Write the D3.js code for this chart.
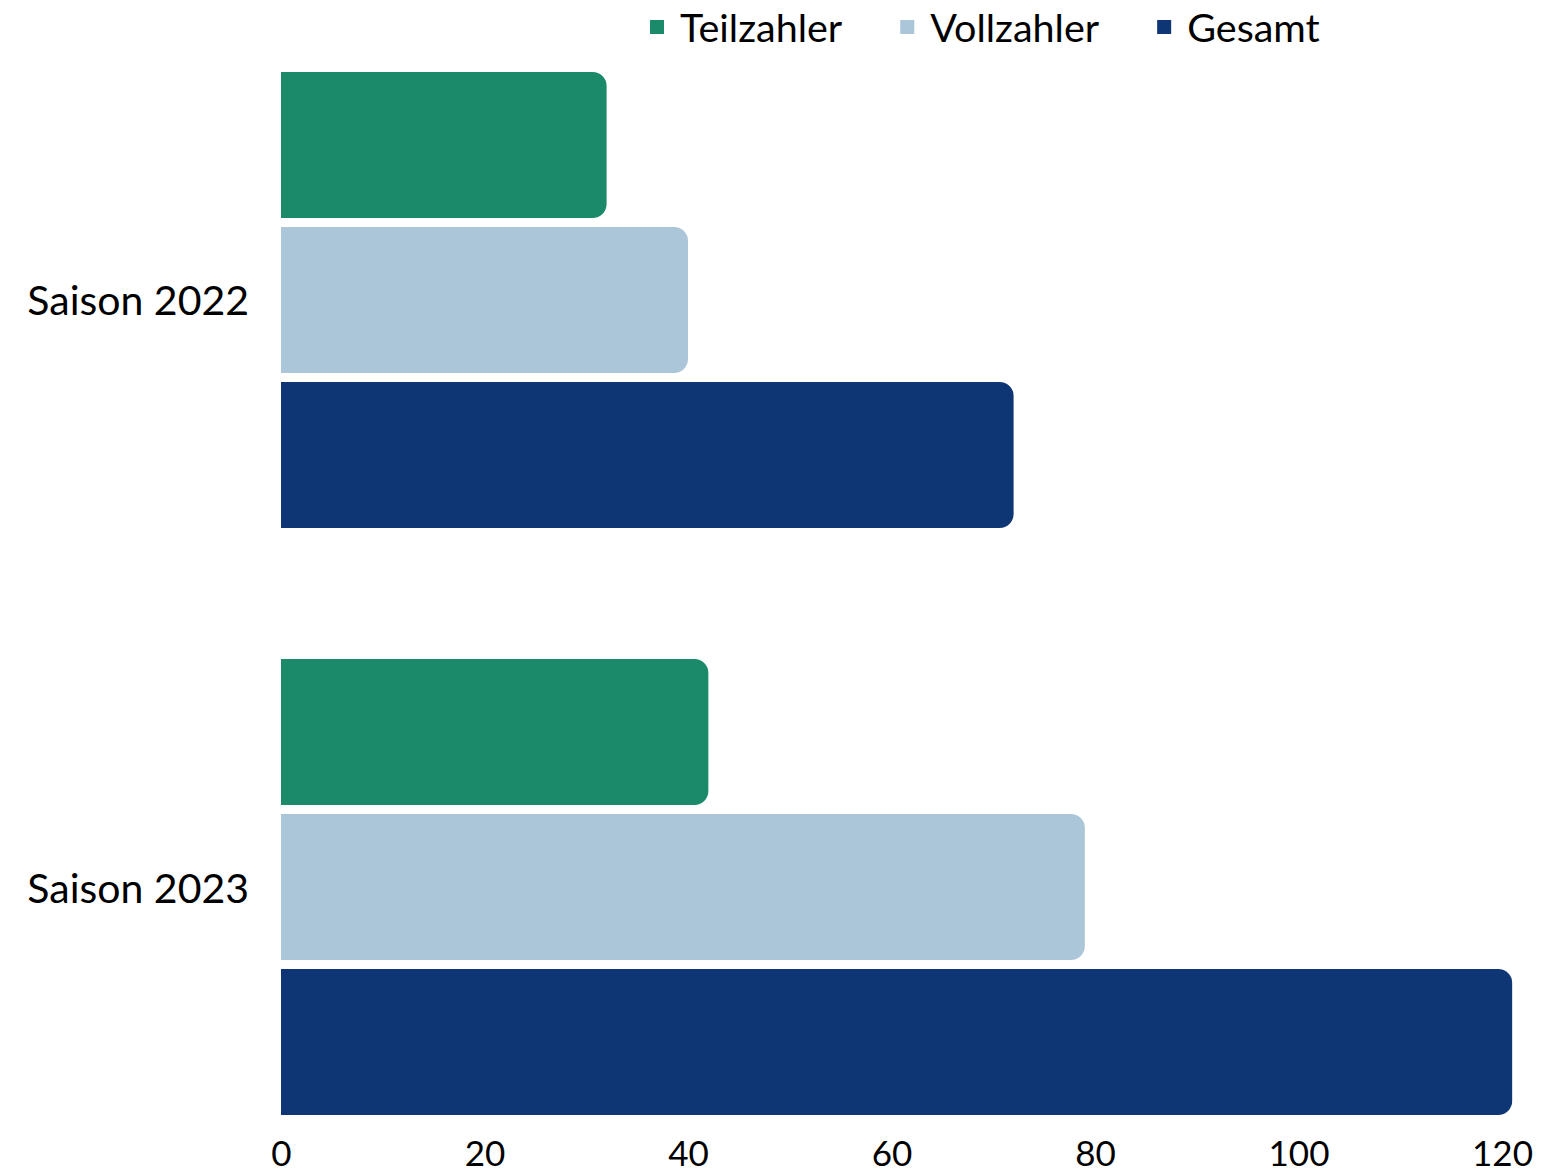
<!DOCTYPE html>
<html>
<head>
<meta charset="utf-8">
<script src="https://cdn.jsdelivr.net/npm/d3@7"></script>
<style>
  html, body { margin: 0; padding: 0; background: #fff; }
  svg { display: block; }
  text { font-family: "Lato", "Open Sans", sans-serif; fill: #000; }
</style>
</head>
<body>
<svg id="chart" width="1541" height="1176"></svg>
<script>
const categories = ["Saison 2022", "Saison 2023"];
const seriesNames = ["Teilzahler", "Vollzahler", "Gesamt"];
const teilzahler = [32, 42];
const vollzahler = [40, 79];
const gesamt = [72, 121];
const xTicks = [0, 20, 40, 60, 80, 100, 120];
const colors = ["#1a8a6a", "#aac6d8", "#0f3674"];

const seriesValues = [teilzahler, vollzahler, gesamt];
const svg = d3.select("#chart");

const x = d3.scaleLinear().domain([0, 120]).range([281, 1502]);
const y0 = d3.scaleBand().domain(categories).range([72, 1115]).paddingInner(0.2232).paddingOuter(0);
const y1 = d3.scaleBand().domain(seriesNames).range([0, y0.bandwidth()]).paddingInner(0.058).paddingOuter(0);

function barPath(x0, x1, top, h, r) {
  r = Math.min(r, (x1 - x0), h / 2);
  return `M${x0},${top}H${x1 - r}A${r},${r} 0 0 1 ${x1},${top + r}V${top + h - r}A${r},${r} 0 0 1 ${x1 - r},${top + h}H${x0}Z`;
}

const groups = svg.selectAll("g.cat").data(categories).join("g")
  .attr("class", "cat")
  .attr("transform", d => `translate(0,${y0(d)})`);

groups.selectAll("path").data((c, ci) => seriesNames.map((s, si) => ({ s, si, v: seriesValues[si][ci] })))
  .join("path")
  .attr("d", d => barPath(x(0), x(d.v), y1(d.s), y1.bandwidth(), 14))
  .attr("fill", d => colors[d.si]);

// category labels
svg.selectAll("text.cat").data(categories).join("text")
  .attr("class", "cat")
  .attr("x", 249)
  .attr("y", d => y0(d) + y0.bandwidth() / 2)
  .attr("text-anchor", "end")
  .attr("dominant-baseline", "central")
  .attr("font-size", 41)
  .text(d => d);

// x axis
const xAxis = d3.axisBottom(x).tickValues(xTicks).tickSize(0).tickPadding(0);
const ax = svg.append("g").attr("transform", "translate(0,1115)").call(xAxis);
ax.select(".domain").remove();
ax.selectAll("text").attr("font-size", 35).attr("font-family", "Lato, sans-serif").attr("fill", "#000").attr("dy", null).attr("y", 51);

// legend
const legend = svg.append("g");
let lx = 650;
seriesNames.forEach((s, i) => {
  const g = legend.append("g").attr("transform", `translate(${lx},0)`);
  g.append("rect").attr("x", 0).attr("y", 20).attr("width", 14).attr("height", 14).attr("fill", colors[i]);
  const t = g.append("text").attr("x", 30).attr("y", 42).attr("font-size", 39.5).text(s);
  const w = t.node().getComputedTextLength();
  lx += 30 + w + 58;
});
</script>
</body>
</html>
